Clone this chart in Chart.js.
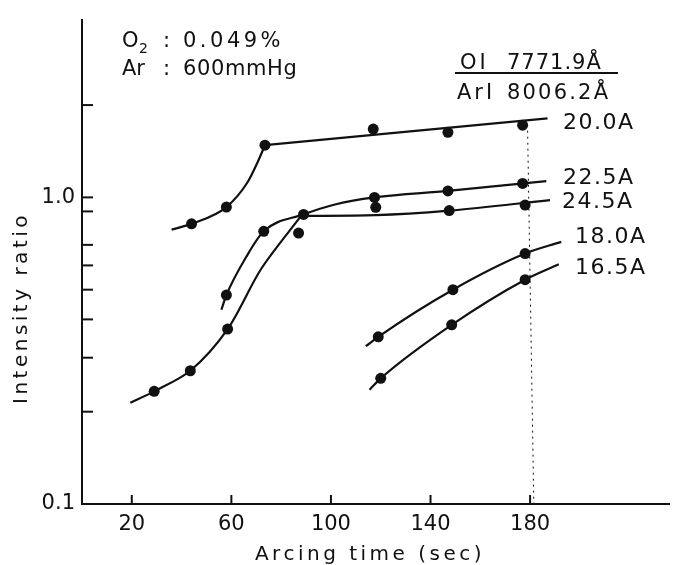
<!DOCTYPE html>
<html>
<head>
<meta charset="utf-8">
<script src="https://cdn.jsdelivr.net/npm/chart.js@4.4.1/dist/chart.umd.min.js"></script>
<style>
  html, body { margin: 0; padding: 0; background: #fff; }
  #wrap { width: 675px; height: 565px; position: relative; }
</style>
</head>
<body>
<div id="wrap"><canvas id="chart"></canvas></div>
<script>
// measured points [time (sec), intensity ratio]
const points200 = [[44, 0.82], [58, 0.93], [73.5, 1.48], [117, 1.67], [147, 1.63], [177, 1.72]];
const points225 = [[58, 0.48], [73, 0.775], [89, 0.88], [117.5, 1.0], [147, 1.05], [177, 1.11]];
const points245 = [[29, 0.233], [43.5, 0.272], [58.5, 0.372], [87, 0.765], [118, 0.928], [147.5, 0.906], [178, 0.944]];
const points180 = [[119, 0.351], [149, 0.50], [178, 0.656]];
const points165 = [[120, 0.257], [148.5, 0.384], [178, 0.539]];

// hand drawn fit curves
const curve200a = [[36, 0.785], [44, 0.82], [58, 0.93], [66.5, 1.12], [70.5, 1.30], [73.5, 1.48]];
const curve200b = [[73.5, 1.48], [187, 1.81]];
const curve225 = [[56, 0.43], [58, 0.48], [66, 0.64], [73, 0.775], [89, 0.88], [102, 0.95], [117.5, 1.0], [147, 1.05], [186.5, 1.13]];
const curve245a = [[19.4, 0.214], [29, 0.233], [43.5, 0.272], [58.5, 0.372], [72, 0.585], [88, 0.87]];
const curve245b = [[88, 0.87], [118, 0.875], [147.5, 0.905], [188, 0.98]];
const curve180 = [[114, 0.327], [119, 0.351], [149, 0.50], [178, 0.656], [192.5, 0.716]];
const curve165 = [[115.5, 0.236], [120, 0.257], [148.5, 0.384], [178, 0.539], [191.5, 0.605]];
const guide180 = [[179, 1.65], [181.5, 0.1]];

const seriesLabels = ['20.0A', '22.5A', '24.5A', '18.0A', '16.5A'];
const xTicks = [20, 60, 100, 140, 180];
const yTicks = [0.1, 0.2, 0.3, 0.4, 0.5, 0.6, 0.7, 0.9, 1, 2];
const yLabelValues = [0.1, 1];
const yLabelTexts = ['0.1', '1.0'];

const FONT = "'DejaVu Sans', sans-serif";
const INK = '#111';

const xy = arr => arr.map(p => ({ x: p[0], y: p[1] }));

function curveSet(arr, extra) {
    return Object.assign({
        data: xy(arr),
        borderColor: INK,
        borderWidth: 2.2,
        pointRadius: 0,
        fill: false,
        cubicInterpolationMode: 'monotone'
    }, extra || {});
}
function pointSet(arr) {
    return {
        data: xy(arr),
        showLine: false,
        pointRadius: 5.5,
        pointBackgroundColor: INK,
        pointBorderColor: INK,
        pointBorderWidth: 0
    };
}

function txt(ctx, s, x, y, size, spacing, align) {
    ctx.font = size + 'px ' + FONT;
    ctx.letterSpacing = (spacing || 0) + 'px';
    ctx.textAlign = align || 'left';
    ctx.fillText(s, x, y);
}

const annotations = {
    id: 'annotations',
    afterDraw(chart) {
        const ctx = chart.ctx;
        const xs = chart.scales.x, ys = chart.scales.y;
        const area = chart.chartArea;
        ctx.save();
        ctx.strokeStyle = INK;
        ctx.fillStyle = INK;
        ctx.lineWidth = 2;

        // inward tick marks
        xTicks.forEach(v => {
            const px = xs.getPixelForValue(v);
            ctx.beginPath();
            ctx.moveTo(px, area.bottom);
            ctx.lineTo(px, area.bottom - 9);
            ctx.stroke();
        });
        yTicks.forEach(v => {
            const py = ys.getPixelForValue(v);
            ctx.beginPath();
            ctx.moveTo(area.left, py);
            ctx.lineTo(area.left + 11, py);
            ctx.stroke();
        });

        ctx.textBaseline = 'alphabetic';
        // conditions
        txt(ctx, 'O', 122, 47, 21, 0);
        txt(ctx, '2', 139, 53, 14, 0);
        txt(ctx, ':', 163, 47, 21, 0);
        txt(ctx, '0.049%', 183, 47, 21, 3.5);
        txt(ctx, 'Ar', 122, 75, 21, 0);
        txt(ctx, ':', 163, 75, 21, 0);
        txt(ctx, '600mmHg', 183, 75, 21, 0.6);

        // line ratio
        txt(ctx, 'OI', 460, 69, 21, 3);
        txt(ctx, '7771.9Å', 507, 69, 21, 1);
        ctx.beginPath();
        ctx.moveTo(455, 73);
        ctx.lineTo(618, 73);
        ctx.stroke();
        txt(ctx, 'ArI', 457, 99, 21, 3);
        txt(ctx, '8006.2Å', 507, 99, 21, 2.2);

        // series labels
        txt(ctx, seriesLabels[0], 563, 129, 22, 1.5);
        txt(ctx, seriesLabels[1], 563, 184, 22, 1.5);
        txt(ctx, seriesLabels[2], 562, 208, 22, 1.5);
        txt(ctx, seriesLabels[3], 575, 243, 22, 1.5);
        txt(ctx, seriesLabels[4], 575, 274, 22, 1.5);

        // axis titles
        txt(ctx, 'Arcing time (sec)', 370, 560, 20, 3.5, 'center');
        ctx.save();
        ctx.translate(22, 308);
        ctx.rotate(-Math.PI / 2);
        ctx.textBaseline = 'middle';
        txt(ctx, 'Intensity ratio', 0, 0, 20, 3.5, 'center');
        ctx.restore();

        ctx.restore();
    }
};

const datasets = [
    curveSet(curve200a), curveSet(curve200b), curveSet(curve225),
    curveSet(curve245a, { cubicInterpolationMode: 'default', tension: 0.3 }),
    curveSet(curve245b), curveSet(curve180), curveSet(curve165),
    pointSet(points200), pointSet(points225), pointSet(points245),
    pointSet(points180), pointSet(points165),
    {
        data: xy(guide180),
        borderColor: INK,
        borderWidth: 1,
        borderDash: [2, 4],
        pointRadius: 0,
        fill: false
    }
];

new Chart(document.getElementById('chart'), {
    type: 'line',
    data: { datasets: datasets },
    options: {
        responsive: true,
        maintainAspectRatio: false,
        animation: false,
        layout: { padding: { top: 15, right: 0, left: 0, bottom: 0 } },
        plugins: { legend: { display: false }, tooltip: { enabled: false } },
        scales: {
            x: {
                type: 'linear',
                min: 0,
                max: 236,
                afterBuildTicks: s => { s.ticks = xTicks.map(v => ({ value: v })); },
                afterFit: s => { s.height = 61; },
                ticks: { font: { family: FONT, size: 21 }, color: INK, padding: 8, maxRotation: 0, autoSkip: false },
                grid: { display: true, drawOnChartArea: false, drawTicks: false },
                border: { color: INK, width: 2 }
            },
            y: {
                type: 'logarithmic',
                min: 0.1,
                max: 3.8,
                afterBuildTicks: s => { s.ticks = yTicks.map(v => ({ value: v })); },
                afterFit: s => { s.width = 82; },
                ticks: {
                    font: { family: FONT, size: 21 },
                    color: INK,
                    padding: 7,
                    autoSkip: false,
                    callback: v => {
                        const i = yLabelValues.findIndex(t => Math.abs(t - v) < 1e-9);
                        return i >= 0 ? yLabelTexts[i] : '';
                    }
                },
                grid: { display: true, drawOnChartArea: false, drawTicks: false },
                border: { color: INK, width: 2 }
            }
        }
    },
    plugins: [annotations]
});
</script>
</body>
</html>
